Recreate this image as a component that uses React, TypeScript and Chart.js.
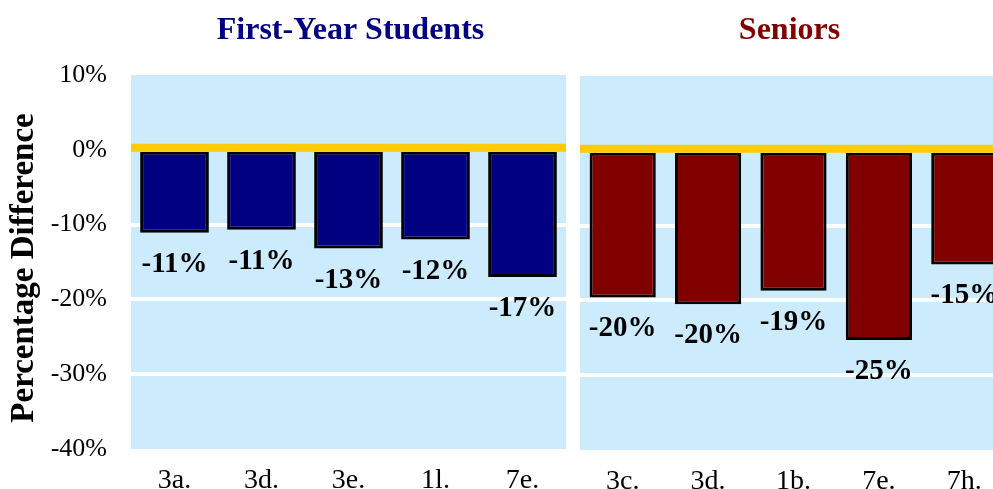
import React, { useEffect, useRef } from 'react';
import { Chart, registerables } from 'chart.js';

Chart.register(...registerables);

const FONT = "'Liberation Serif', 'Times New Roman', Times, serif";

// ---- data ----
const firstYearCategories = ['3a.', '3d.', '3e.', '1l.', '7e.'];
const firstYearValues = [-11.1, -10.7, -13.2, -12.0, -17.0];
const firstYearLabels = ['-11%', '-11%', '-13%', '-12%', '-17%'];

const seniorCategories = ['3c.', '3d.', '1b.', '7e.', '7h.'];
const seniorValues = [-19.6, -20.5, -18.7, -25.3, -15.2];
const seniorLabels = ['-20%', '-20%', '-19%', '-25%', '-15%'];

const yMin = -40;
const yMax = 10;
const yStep = 10;
const gridValues = [-10, -20, -30];

type PanelProps = {
  categories: string[];
  values: number[];
  labels: string[];
  color: string;
  title: string;
  titleColor: string;
  titleDx: number;
  showY: boolean;
  left: number;
  width: number;
  padLeft: number;
  padRight: number;
  padTop: number;
  xAxisHeight: number;
  barPct: number;
};

function Panel(p: PanelProps) {
  const ref = useRef<HTMLCanvasElement | null>(null);
  useEffect(() => {
    if (!ref.current) return;
    const plugin = {
      id: 'panelDecor',
      beforeDraw(chart: any) {
        const { ctx, chartArea: a } = chart;
        ctx.save();
        ctx.fillStyle = '#CCEBFD';
        ctx.fillRect(a.left, a.top, a.right - a.left, a.bottom - a.top);
        ctx.restore();
      },
      afterDatasetsDraw(chart: any) {
        const { ctx, chartArea: a } = chart;
        const y0 = chart.scales.y.getPixelForValue(0);
        ctx.save();
        ctx.fillStyle = '#FFCC00';
        ctx.fillRect(a.left, y0 - 6, a.right - a.left, 8);
        const meta = chart.getDatasetMeta(0);
        ctx.fillStyle = '#000';
        ctx.font = `bold 29px ${FONT}`;
        ctx.textAlign = 'center';
        ctx.textBaseline = 'alphabetic';
        meta.data.forEach((bar: any, i: number) => {
          ctx.fillText(p.labels[i], bar.x, bar.y + 39);
        });
        ctx.restore();
      },
      afterDraw(chart: any) {
        const { ctx, chartArea: a } = chart;
        ctx.save();
        ctx.fillStyle = p.titleColor;
        ctx.font = `bold 32px ${FONT}`;
        ctx.textAlign = 'center';
        ctx.textBaseline = 'alphabetic';
        ctx.fillText(p.title, (a.left + a.right) / 2 + p.titleDx, 39);
        if (p.showY) {
          ctx.fillStyle = '#000';
          ctx.font = `bold 33px ${FONT}`;
          ctx.translate(33, (a.top + a.bottom) / 2 + 6);
          ctx.rotate(-Math.PI / 2);
          ctx.fillText('Percentage Difference', 0, 0);
        }
        ctx.restore();
      },
    };
    const chart = new Chart(ref.current, {
      type: 'bar',
      data: {
        labels: p.categories,
        datasets: [
          {
            data: p.values,
            backgroundColor: p.color,
            borderColor: '#000',
            borderWidth: 3,
            borderSkipped: false,
            barPercentage: p.barPct,
            categoryPercentage: 1,
          },
        ],
      },
      options: {
        responsive: false,
        maintainAspectRatio: false,
        animation: false,
        layout: { padding: { left: p.padLeft, right: p.padRight, top: p.padTop, bottom: 0 } },
        plugins: {
          legend: { display: false },
          tooltip: { enabled: false },
          title: { display: false },
        },
        scales: {
          x: {
            grid: { display: false, drawTicks: false },
            border: { display: false },
            ticks: { color: '#000', font: { family: FONT, size: 28 }, padding: 15, maxRotation: 0 },
            afterFit: (s: any) => {
              s.height = p.xAxisHeight;
            },
          },
          y: {
            min: yMin,
            max: yMax,
            ticks: {
              stepSize: yStep,
              display: p.showY,
              color: '#000',
              font: { family: FONT, size: 26 },
              padding: 24,
              callback: (v: any) => `${v}%`,
            },
            grid: {
              color: (c: any) => (c.tick && gridValues.includes(c.tick.value) ? '#FFFFFF' : 'rgba(0,0,0,0)'),
              lineWidth: 4,
              drawTicks: false,
            },
            border: { display: false },
            afterFit: (s: any) => {
              s.width = p.showY ? 131 : 0;
            },
          },
        },
      },
      plugins: [plugin],
    } as any);
    return () => chart.destroy();
  }, []);
  return (
    <canvas
      ref={ref}
      width={p.width}
      height={489}
      style={{ position: 'absolute', left: p.left, top: 0, width: p.width, height: 489 }}
    />
  );
}

export default function App() {
  useEffect(() => {
    document.body.style.margin = '0';
  }, []);
  return (
    <div style={{ position: 'relative', width: 993, height: 489, overflow: 'hidden', background: '#fff' }}>
      <Panel
        categories={firstYearCategories}
        values={firstYearValues}
        labels={firstYearLabels}
        color="#000080"
        title="First-Year Students"
        titleColor="#000080"
        titleDx={2}
        showY={true}
        left={0}
        width={580}
        padLeft={0}
        padRight={14}
        padTop={75}
        xAxisHeight={40}
        barPct={0.79}
      />
      <Panel
        categories={seniorCategories}
        values={seniorValues}
        labels={seniorLabels}
        color="#800000"
        title="Seniors"
        titleColor="#800000"
        titleDx={-4}
        showY={false}
        left={566}
        width={441}
        padLeft={14}
        padRight={0}
        padTop={76}
        xAxisHeight={39}
        barPct={0.775}
      />
    </div>
  );
}
